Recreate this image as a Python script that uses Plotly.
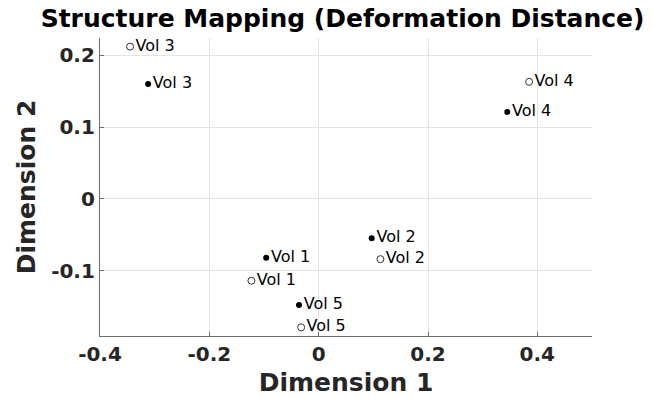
import plotly.graph_objects as go

labels = ["Vol 1", "Vol 2", "Vol 3", "Vol 4", "Vol 5"]
filled_x = [-0.096, 0.097, -0.312, 0.345, -0.036]
filled_y = [-0.082, -0.055, 0.160, 0.121, -0.148]
open_x = [-0.123, 0.113, -0.345, 0.385, -0.032]
open_y = [-0.114, -0.084, 0.212, 0.163, -0.179]

font = "DejaVu Sans"
fig = go.Figure()
fig.add_trace(go.Scatter(
    x=filled_x, y=filled_y, mode="markers+text", text=labels,
    textposition="middle right", textfont=dict(family=font, size=16, color="#000"),
    marker=dict(symbol="circle", size=6, color="black"), showlegend=False, cliponaxis=False))
fig.add_trace(go.Scatter(
    x=open_x, y=open_y, mode="markers+text", text=labels,
    textposition="middle right", textfont=dict(family=font, size=16, color="#000"),
    marker=dict(symbol="circle-open", size=7, color="#333", line=dict(width=1)),
    showlegend=False, cliponaxis=False))

axis_common = dict(
    showgrid=True, gridcolor="#e3e3e3", gridwidth=1, zeroline=False,
    showline=True, linecolor="#6e6e6e", linewidth=1.2, ticks="inside", ticklen=4,
    tickcolor="#6e6e6e", tickfont=dict(family=font, size=20, color="#262626", weight="bold"),
    mirror=False, automargin=False,
)
fig.update_layout(
    width=654, height=398, plot_bgcolor="white", paper_bgcolor="white",
    margin=dict(l=100, r=62, t=38, b=62),
    title=dict(text="<b>Structure Mapping (Deformation Distance)</b>", x=0.493, xref="paper",
               xanchor="center", y=0.953, yanchor="middle", yref="container",
               font=dict(family=font, size=25, color="#000")),
    xaxis=dict(range=[-0.4, 0.5], tickvals=[-0.4, -0.2, 0, 0.2, 0.4],
               ticktext=["-0.4", "-0.2", "0", "0.2", "0.4"],
               title=dict(text="<b>Dimension 1</b>", standoff=8,
                          font=dict(family=font, size=25, color="#262626")),
               **axis_common),
    yaxis=dict(range=[-0.191, 0.224], tickvals=[-0.1, 0, 0.1, 0.2],
               ticktext=["-0.1", "0", "0.1", "0.2"],
               title=dict(text="<b>Dimension 2</b>", standoff=8,
                          font=dict(family=font, size=25, color="#262626")),
               **axis_common),
)
fig.write_html("out.html", config={"displayModeBar": False},
               post_script="document.body.style.margin='0';")
